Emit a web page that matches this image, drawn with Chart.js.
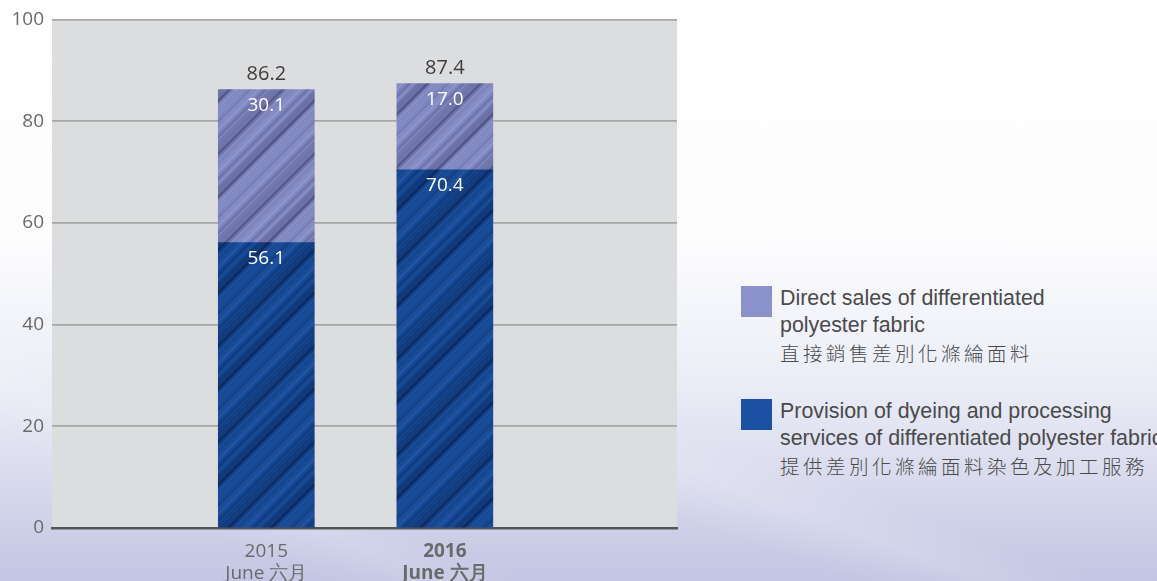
<!DOCTYPE html>
<html>
<head>
<meta charset="utf-8">
<script src="https://cdn.jsdelivr.net/npm/chart.js@4/dist/chart.umd.min.js"></script>
<style>
  html, body { margin: 0; padding: 0; }
  body {
    width: 1157px; height: 581px; overflow: hidden; position: relative;
    background:
      linear-gradient(200deg, rgba(255,255,255,0) 0%, rgba(255,255,255,0) 60%, rgba(255,255,255,0.16) 64%, rgba(255,255,255,0) 69%, rgba(255,255,255,0) 100%),
      linear-gradient(205deg, rgba(255,255,255,0) 0%, rgba(255,255,255,0) 78%, rgba(255,255,255,0.14) 82%, rgba(255,255,255,0) 87%, rgba(255,255,255,0) 100%),
      linear-gradient(to bottom, #ffffff 0%, #fdfdfe 40%, #eef0f8 62%, #dcdeef 80%, #c3c5e3 100%);
  }
  #wrap { position: absolute; left: 0; top: 0; width: 700px; height: 581px; }
  #legend { position: absolute; left: 741px; top: 286px; font-family: "Liberation Sans", Arial, sans-serif; color: #4a4a4a; }
  .item { position: relative; padding-left: 39px; margin-bottom: 32px; }
  .swatch { position: absolute; left: 0; top: 0; width: 31px; height: 31px; }
  .line { font-size: 21.4px; line-height: 27px; height: 27px; white-space: nowrap; position: relative; top: -1px; }
  .line.zh { font-family: "Noto Sans CJK TC", "Noto Sans CJK SC", sans-serif; font-size: 19.5px; font-weight: 300; letter-spacing: 3.5px; }
</style>
</head>
<body>
<div id="wrap"><canvas id="chart"></canvas></div>
<div id="legend"></div>
<script>
// categories (x) and the two stacked series
const years = ["2015", "2016"];
const months = ["June 六月", "June 六月"];
const provisionValues = [56.1, 70.4];
const directValues = [30.1, 17.0];
const yTicks = [0, 20, 40, 60, 80, 100];

const provisionLabel = ["Provision of dyeing and processing", "services of differentiated polyester fabric", "提供差別化滌綸面料染色及加工服務"];
const directLabel = ["Direct sales of differentiated", "polyester fabric", "直接銷售差別化滌綸面料"];

// diagonal brushed texture for the bars
function streakPattern(base, light, dark) {
  const T = 96;
  const c = document.createElement("canvas");
  c.width = T; c.height = T;
  const g = c.getContext("2d");
  g.fillStyle = base; g.fillRect(0, 0, T, T);
  // [offset, width, colour, alpha]
  const stripes = [
    [4, 6, light, 0.25], [6, 1.5, light, 0.5], [13, 2, dark, 0.25], [19, 4, light, 0.2],
    [27, 10, dark, 0.28], [31, 2, dark, 0.55], [38, 1.5, light, 0.45], [44, 5, light, 0.2],
    [52, 1, dark, 0.3], [58, 7, light, 0.22], [60, 1.5, light, 0.45], [67, 3, dark, 0.2],
    [74, 1, light, 0.4], [80, 12, dark, 0.22], [84, 2, dark, 0.5], [90, 1.5, light, 0.35]
  ];
  g.lineCap = "butt";
  stripes.forEach(([o, w, col, a]) => {
    g.strokeStyle = col; g.globalAlpha = a; g.lineWidth = w;
    [-T, 0, T, 2 * T].forEach(k => {
      g.beginPath(); g.moveTo(o + k + T, -T); g.lineTo(o + k - 2 * T, 2 * T); g.stroke();
    });
  });
  g.globalAlpha = 1;
  return g.createPattern(c, "repeat");
}

const provisionFill = streakPattern("#15468f", "#2d62b6", "#061c4a");
const directFill = streakPattern("#7e85be", "#9ca3d6", "#3a3e6a");

const FONT = "'Open Sans', 'Noto Sans', sans-serif";

// grey plot background
const plotBg = {
  id: "plotBg",
  beforeDraw(chart) {
    const { ctx, chartArea: a } = chart;
    ctx.save();
    ctx.fillStyle = "#dcdddf";
    ctx.fillRect(a.left, a.top, a.right - a.left, a.bottom - a.top);
    ctx.restore();
  }
};

// segment values inside the bars and totals on top
const valueLabels = {
  id: "valueLabels",
  afterDatasetsDraw(chart) {
    const { ctx } = chart;
    ctx.save();
    ctx.textAlign = "center";
    ctx.textBaseline = "middle";
    chart.data.datasets.forEach((ds, di) => {
      chart.getDatasetMeta(di).data.forEach((bar, i) => {
        ctx.fillStyle = "#ffffff";
        ctx.font = "19px " + FONT;
        ctx.fillText(ds.data[i].y.toFixed(1), bar.x, bar.y + 16);
        if (di === chart.data.datasets.length - 1) {
          const total = chart.data.datasets.reduce((s, d) => s + d.data[i].y, 0);
          ctx.fillStyle = "#3d3d3d";
          ctx.font = "20px " + FONT;
          ctx.fillText(total.toFixed(1), bar.x, bar.y - 15);
        }
      });
    });
    ctx.restore();
  }
};

const chart = new Chart(document.getElementById("chart"), {
  type: "bar",
  data: {
    datasets: [
      { label: provisionLabel, data: provisionValues.map((v, i) => ({ x: i, y: v })), backgroundColor: provisionFill, legendColor: "#1a51a2", barThickness: 96 },
      { label: directLabel, data: directValues.map((v, i) => ({ x: i, y: v })), backgroundColor: directFill, legendColor: "#8a91cb", barThickness: 96 }
    ]
  },
  options: {
    responsive: true,
    maintainAspectRatio: false,
    animation: false,
    layout: { padding: { top: 19, right: 23, left: 0, bottom: 0 } },
    plugins: { legend: { display: false }, tooltip: { enabled: false } },
    scales: {
      x: {
        type: "linear",
        stacked: true,
        offset: false,
        min: -1.2,
        max: 2.3,
        z: 1,
        afterBuildTicks: s => { s.ticks = years.map((y, i) => ({ value: i })); },
        afterFit: s => { s.height = 53; },
        grid: { display: false, drawTicks: false, offset: false },
        border: { display: true, color: "#555555", width: 2.5 },
        ticks: {
          padding: 13,
          color: "#6a6a6a",
          font: c => ({ family: FONT, size: 19, lineHeight: 1.13, weight: c.index === 1 ? "bold" : "normal" }),
          callback: v => [years[v], months[v]]
        }
      },
      y: {
        stacked: true,
        min: yTicks[0],
        max: yTicks[yTicks.length - 1],
        afterBuildTicks: s => { s.ticks = yTicks.map(v => ({ value: v })); },
        afterFit: s => { s.width = 52; },
        border: { display: false },
        grid: {
          drawTicks: false,
          color: c => c.tick.value === 0 ? "rgba(0,0,0,0)" : "#a6a6a6",
          lineWidth: 1.8
        },
        ticks: { padding: 8, color: "#6a6a6a", font: { family: FONT, size: 19 } }
      }
    }
  },
  plugins: [plotBg, valueLabels]
});

// legend on the right, top series first
const legend = document.getElementById("legend");
chart.data.datasets.slice().reverse().forEach(ds => {
  const item = document.createElement("div");
  item.className = "item";
  const sw = document.createElement("div");
  sw.className = "swatch";
  sw.style.background = ds.legendColor;
  item.appendChild(sw);
  ds.label.forEach(t => {
    const ln = document.createElement("div");
    ln.className = /[\u4e00-\u9fff]/.test(t) ? "line zh" : "line";
    ln.textContent = t;
    item.appendChild(ln);
  });
  legend.appendChild(item);
});
</script>
</body>
</html>
